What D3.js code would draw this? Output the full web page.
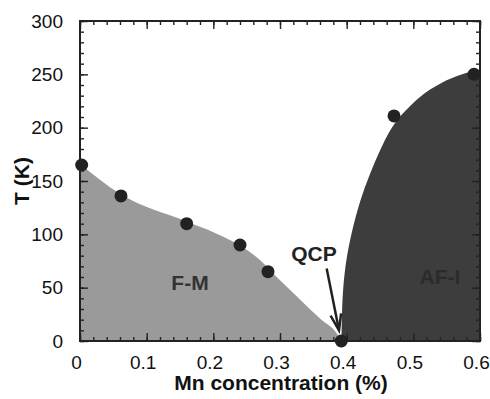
<!DOCTYPE html>
<html>
<head>
<meta charset="utf-8">
<script src="https://cdn.jsdelivr.net/npm/d3@7"></script>
<style>
    body { margin: 0; background: #fff; }
    svg { display: block; font-family: 'Liberation Sans', Arial, sans-serif; }
</style>
</head>
<body>
<div id="chart"></div>
<script>
// Measured points (Mn concentration, T)
const pointX = [0.0025, 0.0615, 0.16, 0.24, 0.282, 0.392, 0.471, 0.591];
const pointT = [165, 136, 110, 90, 65, 0, 211, 250];

// F-M phase boundary
const fmX = [0, 0.06, 0.16, 0.2, 0.23, 0.27, 0.295, 0.33, 0.36, 0.3875, 0.392];
const fmT = [166, 138, 112, 102, 93, 76, 60, 39, 21, 5, 0];

// AF-I phase boundary
const afX = [0.392, 0.3925, 0.393, 0.396, 0.4055, 0.42, 0.435, 0.45, 0.465, 0.48, 0.51, 0.54, 0.575, 0.6];
const afT = [0, 10, 32, 64, 98, 132, 157, 179, 198, 211, 230, 242, 251, 254];

const xTicks = [0, 0.1, 0.2, 0.3, 0.4, 0.5, 0.6];
const yTicks = [0, 50, 100, 150, 200, 250, 300];

const width = 490;
const height = 399;
const margin = { top: 21, right: 10, bottom: 58, left: 80 };

const svg = d3.select('#chart')
    .append('svg')
    .attr('width', width)
    .attr('height', height);

const x = d3.scaleLinear()
    .domain([0, 0.6])
    .range([margin.left, width - margin.right]);

const y = d3.scaleLinear()
    .domain([0, 300])
    .range([height - margin.bottom, margin.top]);

const x0 = x(0), x1 = x(0.6), y0 = y(0), y1 = y(300);

// Phase regions
const area = d3.area()
    .x(d => x(d[0]))
    .y0(y(0))
    .y1(d => y(d[1]))
    .curve(d3.curveMonotoneX);

svg.append('path')
    .datum(fmX.map((v, i) => [v, fmT[i]]))
    .attr('d', area)
    .attr('fill', '#9a9a9a');

// AF-I boundary is steep, so build it as a closed line
const afLine = d3.line()
    .x(d => x(d[0]))
    .y(d => y(d[1]))
    .curve(d3.curveBasis);

const afPts = afX.map((v, i) => [v, afT[i]]);
svg.append('path')
    .attr('d', afLine(afPts) + `L${x(0.6)},${y(0)}Z`)
    .attr('fill', '#3d3d3d');

// Minor ticks
const xMinor = d3.range(0, 0.601, 0.02);
const yMinor = d3.range(0, 301, 10);

const addAxis = (axis, transform) => {
    const g = svg.append('g')
        .attr('transform', transform)
        .call(axis);
    g.select('.domain').remove();
    g.selectAll('.tick line').attr('stroke', '#222').attr('stroke-width', 1.4);
    return g;
};

addAxis(d3.axisBottom(x).tickValues(xMinor).tickSize(-4).tickFormat(''), `translate(0,${y0})`);
addAxis(d3.axisTop(x).tickValues(xMinor).tickSize(-4).tickFormat(''), `translate(0,${y1})`);
addAxis(d3.axisLeft(y).tickValues(yMinor).tickSize(-4).tickFormat(''), `translate(${x0},0)`);
addAxis(d3.axisRight(y).tickValues(yMinor).tickSize(-4).tickFormat(''), `translate(${x1},0)`);

const xAxis = addAxis(d3.axisBottom(x).tickValues(xTicks).tickSize(-8).tickPadding(18).tickFormat(d => d), `translate(0,${y0})`);
addAxis(d3.axisTop(x).tickValues(xTicks).tickSize(-8).tickFormat(''), `translate(0,${y1})`);
const yAxis = addAxis(d3.axisLeft(y).tickValues(yTicks).tickSize(-8).tickPadding(18).tickFormat(d => d), `translate(${x0},0)`);
addAxis(d3.axisRight(y).tickValues(yTicks).tickSize(-8).tickFormat(''), `translate(${x1},0)`);

xAxis.selectAll('text')
    .attr('font-size', 19)
    .attr('font-family', "'Liberation Sans', Arial, sans-serif")
    .attr('fill', '#111')
    .attr('dx', -4)
    .attr('dy', '0.5em');

yAxis.selectAll('text')
    .attr('font-size', 19)
    .attr('font-family', "'Liberation Sans', Arial, sans-serif")
    .attr('fill', '#111')
    .attr('dx', 1);

// Frame
svg.append('rect')
    .attr('x', x0)
    .attr('y', y1)
    .attr('width', x1 - x0)
    .attr('height', y0 - y1)
    .attr('fill', 'none')
    .attr('stroke', '#222')
    .attr('stroke-width', 2);

// Data points
svg.append('g')
    .selectAll('circle')
    .data(pointX.map((v, i) => [v, pointT[i]]))
    .join('circle')
    .attr('cx', d => x(d[0]))
    .attr('cy', d => y(d[1]))
    .attr('r', 6.5)
    .attr('fill', '#222');

// Labels
svg.append('text')
    .attr('x', x(0.165))
    .attr('y', y(48))
    .attr('text-anchor', 'middle')
    .attr('font-size', 21)
    .attr('font-weight', 'bold')
    .attr('fill', '#333')
    .text('F-M');

svg.append('text')
    .attr('x', x(0.54))
    .attr('y', y(53))
    .attr('text-anchor', 'middle')
    .attr('font-size', 21)
    .attr('font-weight', 'bold')
    .attr('fill', '#2b2b2b')
    .text('AF-I');

svg.append('text')
    .attr('x', x(0.351))
    .attr('y', y(75))
    .attr('text-anchor', 'middle')
    .attr('font-size', 21)
    .attr('font-weight', 'bold')
    .attr('fill', '#222')
    .text('QCP');

// Arrow to QCP
const tip = [x(0.3885), y(10)];
const tail = [x(0.37), y(68)];
svg.append('line')
    .attr('x1', tail[0]).attr('y1', tail[1])
    .attr('x2', tip[0]).attr('y2', tip[1])
    .attr('stroke', '#222')
    .attr('stroke-width', 2.5);

const ang = Math.atan2(tip[1] - tail[1], tip[0] - tail[0]);
const headLen = 17;
const spread = 0.32;
svg.append('path')
    .attr('d', `M${tip[0] - headLen * Math.cos(ang - spread)},${tip[1] - headLen * Math.sin(ang - spread)}`
        + `L${tip[0]},${tip[1]}`
        + `L${tip[0] - headLen * Math.cos(ang + spread)},${tip[1] - headLen * Math.sin(ang + spread)}`)
    .attr('fill', 'none')
    .attr('stroke', '#222')
    .attr('stroke-width', 2.5);

// Axis titles
svg.append('text')
    .attr('x', 281)
    .attr('y', 390)
    .attr('text-anchor', 'middle')
    .attr('font-size', 21)
    .attr('font-weight', 'bold')
    .attr('fill', '#111')
    .text('Mn concentration (%)');

svg.append('text')
    .attr('transform', `translate(29,${y(150)}) rotate(-90)`)
    .attr('text-anchor', 'middle')
    .attr('font-size', 21)
    .attr('font-weight', 'bold')
    .attr('fill', '#111')
    .text('T (K)');
</script>
</body>
</html>
